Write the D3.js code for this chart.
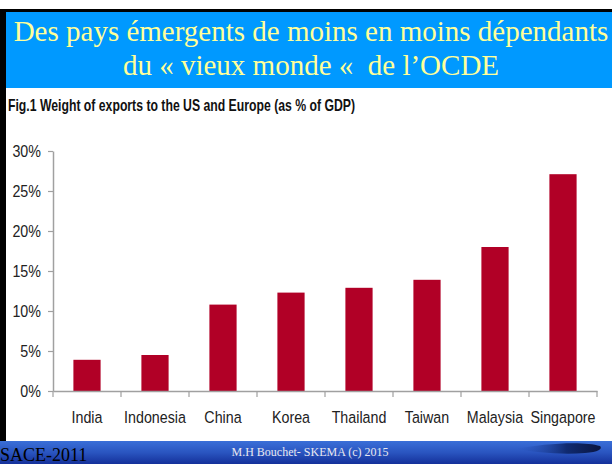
<!DOCTYPE html>
<html>
<head>
<meta charset="utf-8">
<script src="https://cdn.jsdelivr.net/npm/d3@7"></script>
<style>
  body { margin: 0; background: #fff; }
  svg { display: block; }
  .narrow { font-family: "Liberation Sans", Arial, sans-serif; }
</style>
</head>
<body>
<svg id="chart" width="612" height="464"></svg>
<script>
// data
const countries = ["India", "Indonesia", "China", "Korea", "Thailand", "Taiwan", "Malaysia", "Singapore"];
const exportShare = [0.039, 0.045, 0.108, 0.123, 0.129, 0.139, 0.180, 0.271];
const yTicks = [0, 0.05, 0.10, 0.15, 0.20, 0.25, 0.30];

const titleLines = ["Des pays émergents de moins en moins dépendants", "du « vieux monde «  de l’OCDE"];
const figTitle = "Fig.1 Weight of exports to the US and Europe (as % of GDP)";

const squeeze = 0.84; // condensed look for the chart labels

const svg = d3.select("#chart");
const defs = svg.append("defs");

// slide frame: black top and left edges
svg.append("rect").attr("x", 0).attr("y", 9).attr("width", 612).attr("height", 3).attr("fill", "#000");
svg.append("rect").attr("x", 0).attr("y", 9).attr("width", 6).attr("height", 432).attr("fill", "#000");

// blue header
svg.append("rect").attr("x", 6).attr("y", 12).attr("width", 606).attr("height", 76).attr("fill", "#0099ff");
svg.selectAll("text.title")
    .data(titleLines)
    .enter().append("text")
    .attr("class", "title")
    .attr("x", 311)
    .attr("y", (d, i) => 41 + i * 34)
    .attr("text-anchor", "middle")
    .attr("font-family", "Liberation Serif, Times New Roman, serif")
    .attr("font-size", 29)
    .attr("fill", "#ffff99")
    .style("white-space", "pre")
    .text(d => d);

svg.append("text")
    .attr("class", "narrow")
    .attr("x", 8)
    .attr("y", 111)
    .attr("font-size", 17)
    .attr("font-weight", "bold")
    .attr("fill", "#111")
    .attr("textLength", 347)
    .attr("lengthAdjust", "spacingAndGlyphs")
    .text(figTitle);

// chart
const x = d3.scaleBand()
    .domain(countries)
    .range([53, 597])
    .paddingInner(0.6)
    .paddingOuter(0.3);

const y = d3.scaleLinear()
    .domain([0, 0.30])
    .range([391, 151]);

const axisColor = "#a0a0a0";

const yAxis = svg.append("g")
    .attr("transform", "translate(53,0)")
    .call(d3.axisLeft(y).tickValues(yTicks).tickFormat(d3.format(".0%")).tickSizeInner(5).tickSizeOuter(0).tickPadding(7));
yAxis.select(".domain").attr("stroke", axisColor).attr("stroke-width", 1.5);
yAxis.selectAll(".tick line").attr("stroke", axisColor).attr("stroke-width", 1.2);
yAxis.selectAll(".tick text")
    .attr("class", "narrow")
    .attr("font-size", 17)
    .attr("fill", "#222")
    .attr("x", -12 / squeeze)
    .attr("transform", `scale(${squeeze},1)`);

svg.selectAll("rect.bar")
    .data(countries)
    .enter().append("rect")
    .attr("class", "bar")
    .attr("x", d => x(d))
    .attr("width", x.bandwidth())
    .attr("y", (d, i) => y(exportShare[i]))
    .attr("height", (d, i) => y(0) - y(exportShare[i]))
    .attr("fill", "#b10026");

const xAxis = svg.append("g")
    .attr("transform", `translate(0,${y(0)})`)
    .call(d3.axisBottom(x).tickSize(0).tickPadding(20));
xAxis.select(".domain").attr("stroke", axisColor).attr("stroke-width", 1.5);
xAxis.selectAll(".tick text")
    .attr("class", "narrow")
    .attr("font-size", 17)
    .attr("fill", "#222")
    .attr("transform", `scale(${squeeze},1)`);

// category boundary ticks
const boundaries = countries.map(c => x(c) - x.step() * x.paddingInner() / 2);
boundaries.push(x.range()[1]);
xAxis.selectAll("line.sep")
    .data(boundaries)
    .enter().append("line")
    .attr("class", "sep")
    .attr("x1", d => d).attr("x2", d => d)
    .attr("y1", 0).attr("y2", 6)
    .attr("stroke", axisColor)
    .attr("stroke-width", 1.2);

// footer band
const footGrad = defs.append("linearGradient").attr("id", "foot").attr("x1", 0).attr("y1", 0).attr("x2", 0).attr("y2", 1);
footGrad.append("stop").attr("offset", "0%").attr("stop-color", "#3a6fd8");
footGrad.append("stop").attr("offset", "50%").attr("stop-color", "#2a55c0");
footGrad.append("stop").attr("offset", "100%").attr("stop-color", "#14309a");
svg.append("rect").attr("x", 0).attr("y", 441).attr("width", 612).attr("height", 23).attr("fill", "url(#foot)");

const swoosh = defs.append("linearGradient").attr("id", "swoosh");
swoosh.append("stop").attr("offset", "0%").attr("stop-color", "#2a55c0").attr("stop-opacity", 0);
swoosh.append("stop").attr("offset", "60%").attr("stop-color", "#102a70");
swoosh.append("stop").attr("offset", "100%").attr("stop-color", "#0a1540");
svg.append("path")
    .attr("d", "M515,449 C545,443 585,441 600,446 C603,449 598,452 585,453 C560,455 535,452 515,449 Z")
    .attr("fill", "url(#swoosh)");

svg.append("text")
    .attr("x", 0)
    .attr("y", 461)
    .attr("font-family", "Liberation Serif, Times New Roman, serif")
    .attr("font-size", 18)
    .attr("fill", "#000")
    .text("SACE-2011");

svg.append("text")
    .attr("x", 310)
    .attr("y", 456)
    .attr("text-anchor", "middle")
    .attr("font-family", "Liberation Serif, Times New Roman, serif")
    .attr("font-size", 12)
    .attr("fill", "#e8e8f0")
    .text("M.H Bouchet- SKEMA (c) 2015");
</script>
</body>
</html>
